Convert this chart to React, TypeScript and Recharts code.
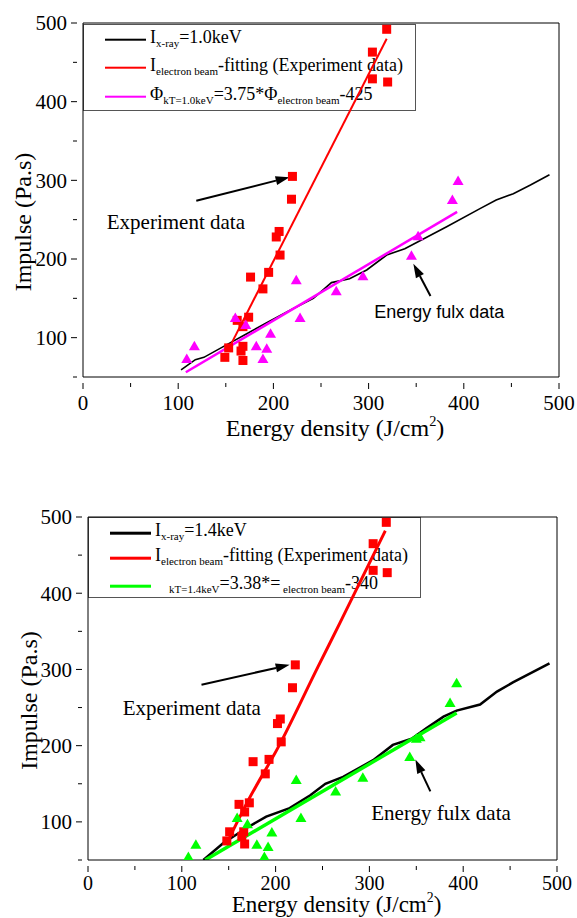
import React from 'react';
import {
  ComposedChart,
  Legend,
  Line,
  ReferenceDot,
  ReferenceLine,
  Scatter,
  XAxis,
  YAxis,
} from 'recharts';

const SERIF = 'Liberation Serif';
const SANS = 'Liberation Sans';

type Pt = { x: number; y: number };

const xTicks = [0, 50, 100, 150, 200, 250, 300, 350, 400, 450, 500];
const yTicks = [50, 100, 150, 200, 250, 300, 350, 400, 450, 500];

// kT = 1.0 keV panel
const xray10: Pt[] = [
  { x: 103, y: 59 }, { x: 118, y: 72 }, { x: 127, y: 75 }, { x: 154, y: 93 },
  { x: 172, y: 105 }, { x: 193, y: 119 }, { x: 221, y: 137 }, { x: 242, y: 150 },
  { x: 261, y: 170 }, { x: 280, y: 175 }, { x: 298, y: 186 }, { x: 319, y: 205 },
  { x: 338, y: 213 }, { x: 357, y: 225 }, { x: 382, y: 241 }, { x: 417, y: 264 },
  { x: 434, y: 275 }, { x: 452, y: 283 }, { x: 470, y: 294 }, { x: 490, y: 307 },
];
const fit10: Pt[] = [{ x: 154, y: 88 }, { x: 319, y: 480 }];
const exp10: Pt[] = [
  { x: 149, y: 75 }, { x: 153, y: 87 }, { x: 166, y: 83 }, { x: 168, y: 89 },
  { x: 168, y: 71 }, { x: 162, y: 122 }, { x: 168, y: 114 }, { x: 174, y: 126 },
  { x: 176, y: 177 }, { x: 189, y: 162 }, { x: 195, y: 183 }, { x: 203, y: 228 },
  { x: 206, y: 235 }, { x: 207, y: 205 }, { x: 219, y: 276 }, { x: 220, y: 305 },
  { x: 304, y: 429 }, { x: 304, y: 463 }, { x: 319, y: 492 }, { x: 320, y: 425 },
];
const fluxLine10: Pt[] = [{ x: 108, y: 56 }, { x: 393, y: 260 }];
const flux10: Pt[] = [
  { x: 109, y: 73 }, { x: 117, y: 89 }, { x: 160, y: 125 }, { x: 171, y: 116 },
  { x: 182, y: 89 }, { x: 189, y: 73 }, { x: 193, y: 86 }, { x: 197, y: 105 },
  { x: 224, y: 173 }, { x: 228, y: 125 }, { x: 266, y: 159 }, { x: 294, y: 178 },
  { x: 345, y: 204 }, { x: 352, y: 229 }, { x: 388, y: 275 }, { x: 394, y: 299 },
];

// kT = 1.4 keV panel
const xray14: Pt[] = [
  { x: 123, y: 50 }, { x: 144, y: 72 }, { x: 169, y: 92 }, { x: 190, y: 107 },
  { x: 215, y: 118 }, { x: 237, y: 135 }, { x: 253, y: 150 }, { x: 272, y: 159 },
  { x: 304, y: 181 }, { x: 325, y: 201 }, { x: 345, y: 209 }, { x: 361, y: 223 },
  { x: 379, y: 238 }, { x: 393, y: 246 }, { x: 418, y: 254 }, { x: 436, y: 271 },
  { x: 453, y: 283 }, { x: 492, y: 308 },
];
const fit14: Pt[] = [
  { x: 148, y: 72 }, { x: 169, y: 124 }, { x: 205, y: 203 }, { x: 245, y: 303 },
  { x: 269, y: 362 }, { x: 317, y: 482 },
];
const exp14: Pt[] = [
  { x: 148, y: 75 }, { x: 151, y: 87 }, { x: 164, y: 81 }, { x: 166, y: 87 },
  { x: 167, y: 71 }, { x: 161, y: 123 }, { x: 167, y: 113 }, { x: 172, y: 125 },
  { x: 176, y: 179 }, { x: 189, y: 163 }, { x: 193, y: 182 }, { x: 202, y: 229 },
  { x: 205, y: 235 }, { x: 206, y: 205 }, { x: 218, y: 276 }, { x: 221, y: 306 },
  { x: 304, y: 430 }, { x: 304, y: 465 }, { x: 318, y: 493 }, { x: 319, y: 427 },
];
const fluxLine14: Pt[] = [{ x: 125, y: 50 }, { x: 393, y: 243 }];
const flux14: Pt[] = [
  { x: 107, y: 54 }, { x: 115, y: 70 }, { x: 159, y: 105 }, { x: 170, y: 97 },
  { x: 180, y: 70 }, { x: 188, y: 54 }, { x: 192, y: 67 }, { x: 196, y: 86 },
  { x: 222, y: 155 }, { x: 227, y: 105 }, { x: 264, y: 140 }, { x: 293, y: 158 },
  { x: 343, y: 185 }, { x: 350, y: 209 }, { x: 354, y: 211 }, { x: 386, y: 256 },
  { x: 393, y: 282 },
];

const sub = (t: string) => <sub style={{ fontSize: 11 }}>{t}</sub>;

const legend10 = [
  { color: '#000', top: 15, label: <>I{sub('x-ray')}=1.0keV</> },
  { color: '#ff0000', top: 43, label: <>I{sub('electron beam')}-fitting (Experiment data)</> },
  { color: '#ff00ff', top: 72, label: <>Φ{sub('kT=1.0keV')}=3.75*Φ{sub('electron beam')}-425</> },
];
const legend14 = [
  { color: '#000', top: 15, label: <>I{sub('x-ray')}=1.4keV</> },
  { color: '#ff0000', top: 40, label: <>I{sub('electron beam')}-fitting (Experiment data)</> },
  {
    color: '#00ff00',
    top: 68,
    label: <><span style={{ display: 'inline-block', width: 14 }} />{sub('kT=1.4keV')}=3.38*={sub(' electron beam')}-340</>,
  },
];

function LegendBox({ rows, lineW }: { rows: typeof legend10; lineW: number }) {
  return (
    <div
      style={{
        position: 'relative',
        width: '100%',
        height: '100%',
        border: '1px solid #555',
        boxSizing: 'border-box',
        background: '#fff',
        fontFamily: SERIF,
        fontSize: 18,
        color: '#000',
      }}
    >
      {rows.map((r, i) => (
        <div
          key={i}
          style={{
            position: 'absolute',
            left: 21,
            top: r.top,
            transform: 'translateY(-50%)',
            display: 'flex',
            alignItems: 'center',
            whiteSpace: 'nowrap',
            lineHeight: '18px',
          }}
        >
          <span style={{ display: 'inline-block', width: 41, height: lineW, background: r.color, marginRight: 4 }} />
          <span>{r.label}</span>
        </div>
      ))}
    </div>
  );
}

const serifStyle = (fs: number) => ({ fontFamily: SERIF, fontSize: fs });

const makeXTick = (labelDy: number, fs: number) => (p: any) => {
  const major = p.payload.value % 100 === 0;
  return (
    <g>
      <line x1={p.x} x2={p.x} y1={p.y} y2={p.y + (major ? 6 : 4)} stroke="#000" />
      {major && (
        <text x={p.x} y={p.y + labelDy} textAnchor="middle" fontFamily={SERIF} style={serifStyle(fs)} fill="#000">
          {p.payload.value}
        </text>
      )}
    </g>
  );
};

const YTick = (p: any) => {
  const major = p.payload.value % 100 === 0;
  return (
    <g>
      <line x1={p.x} x2={p.x - (major ? 6 : 4)} y1={p.y} y2={p.y} stroke="#000" />
      {major && (
        <text x={p.x - 10} y={p.y} dy="0.35em" textAnchor="end" fontFamily={SERIF} style={serifStyle(21)} fill="#000">
          {p.payload.value}
        </text>
      )}
    </g>
  );
};

const Arrow = (p: any) => {
  const { x1, y1, x2, y2 } = p;
  const a = Math.atan2(y2 - y1, x2 - x1);
  const L = 14;
  const W = 4.5;
  const bx = x2 - L * Math.cos(a);
  const by = y2 - L * Math.sin(a);
  const nx = -Math.sin(a) * W;
  const ny = Math.cos(a) * W;
  return (
    <g>
      <line x1={x1} y1={y1} x2={bx} y2={by} stroke="#000" strokeWidth={2} />
      <polygon points={`${x2},${y2} ${bx + nx},${by + ny} ${bx - nx},${by - ny}`} fill="#000" />
    </g>
  );
};

const textShape = (t: string, family: string, fs: number) => (p: any) => (
  <text x={p.cx} y={p.cy} dy="0.35em" fontFamily={family} style={{ fontFamily: family, fontSize: fs }} fill="#000">
    {t}
  </text>
);

const square = (p: any) => <rect x={p.cx - 4.5} y={p.cy - 4.5} width={9} height={9} fill="#ff0000" />;
const triangle = (color: string) => (p: any) => (
  <polygon points={`${p.cx},${p.cy - 5.5} ${p.cx - 5.5},${p.cy + 4} ${p.cx + 5.5},${p.cy + 4}`} fill={color} />
);

type PanelProps = {
  height: number;
  top: number;
  right: number;
  yW: number;
  xH: number;
  xray: Pt[];
  fit: Pt[];
  fitType: 'linear' | 'monotone';
  exp: Pt[];
  fluxLine: Pt[];
  flux: Pt[];
  fluxColor: string;
  widths: { xray: number; fit: number; flux: number };
  legendRows: typeof legend10;
  legendBox: { left: number; top: number; width: number; height: number };
  legendLineW: number;
  tickDy: number;
  tickFs: number;
  xTitle: { dx: number; dy: number; fs: number };
  yTitle: { x: number; dy: number; fs: number };
  expText: Pt;
  expArrow: [Pt, Pt];
  fluxText: Pt;
  fluxFont: string;
  fluxFs: number;
  fluxArrow: [Pt, Pt];
};

function Panel(P: PanelProps) {
  return (
    <ComposedChart width={577} height={P.height} margin={{ top: P.top, right: P.right, bottom: 0, left: 0 }}>
      <XAxis
        type="number"
        dataKey="x"
        domain={[0, 500]}
        ticks={xTicks}
        interval={0}
        tickLine={false}
        tickMargin={0}
        tick={makeXTick(P.tickDy, P.tickFs)}
        axisLine={{ stroke: '#000' }}
        height={P.xH}
        allowDataOverflow
        label={(lp: any) => {
          const vb = lp.viewBox;
          return (
            <text
              x={vb.x + vb.width / 2 + P.xTitle.dx}
              y={vb.y + P.xTitle.dy}
              textAnchor="middle"
              fontFamily={SERIF}
              style={serifStyle(P.xTitle.fs)}
              fill="#000"
            >
              <tspan>Energy density (J/cm</tspan>
              <tspan dy={-10} style={{ fontSize: P.xTitle.fs * 0.6 }}>2</tspan>
              <tspan dy={10}>)</tspan>
            </text>
          );
        }}
      />
      <YAxis
        type="number"
        dataKey="y"
        domain={[50, 500]}
        ticks={yTicks}
        interval={0}
        tickLine={false}
        tickMargin={0}
        tick={YTick}
        axisLine={{ stroke: '#000' }}
        width={P.yW}
        allowDataOverflow
        label={(lp: any) => {
          const vb = lp.viewBox;
          const cx = P.yTitle.x;
          const cy = vb.y + vb.height / 2 + P.yTitle.dy;
          return (
            <text
              x={cx}
              y={cy}
              dy="0.35em"
              textAnchor="middle"
              transform={`rotate(-90 ${cx} ${cy})`}
              fontFamily={SERIF}
              style={serifStyle(P.yTitle.fs)}
              fill="#000"
            >
              Impulse (Pa.s)
            </text>
          );
        }}
      />
      <Legend
        layout="vertical"
        align="center"
        verticalAlign="middle"
        content={() => <LegendBox rows={P.legendRows} lineW={P.legendLineW} />}
        wrapperStyle={{ ...P.legendBox, zIndex: -1 }}
      />
      <ReferenceLine y={500} stroke="#000" />
      <ReferenceLine x={500} stroke="#000" />
      <Line data={P.xray} dataKey="y" type="linear" stroke="#000" strokeWidth={P.widths.xray} dot={false} activeDot={false} isAnimationActive={false} />
      <Line data={P.fluxLine} dataKey="y" type="linear" stroke={P.fluxColor} strokeWidth={P.widths.flux} dot={false} activeDot={false} isAnimationActive={false} />
      <Line data={P.fit} dataKey="y" type={P.fitType} stroke="#ff0000" strokeWidth={P.widths.fit} dot={false} activeDot={false} isAnimationActive={false} />
      <Scatter data={P.exp} dataKey="y" shape={square} isAnimationActive={false} />
      <Scatter data={P.flux} dataKey="y" shape={triangle(P.fluxColor)} isAnimationActive={false} />
      <ReferenceLine segment={P.expArrow} shape={Arrow} />
      <ReferenceLine segment={P.fluxArrow} shape={Arrow} />
      <ReferenceDot x={P.expText.x} y={P.expText.y} r={0} shape={textShape('Experiment data', SERIF, 21)} />
      <ReferenceDot x={P.fluxText.x} y={P.fluxText.y} r={0} shape={textShape('Energy fulx data', P.fluxFont, P.fluxFs)} />
    </ComposedChart>
  );
}

export default function App() {
  return (
    <div style={{ position: 'absolute', left: 0, top: 0, width: 577, height: 918, background: '#fff', zIndex: 0 }}>
      <Panel
        height={460}
        top={23}
        right={18}
        yW={83}
        xH={83}
        xray={xray10}
        fit={fit10}
        fitType="linear"
        exp={exp10}
        fluxLine={fluxLine10}
        flux={flux10}
        fluxColor="#ff00ff"
        widths={{ xray: 1.6, fit: 2, flux: 2.5 }}
        legendRows={legend10}
        legendBox={{ left: 83, top: 24, width: 333, height: 87 }}
        legendLineW={2}
        tickDy={27}
        tickFs={21}
        xTitle={{ dx: 14, dy: 59, fs: 24 }}
        yTitle={{ x: 23, dy: 22, fs: 24 }}
        expText={{ x: 25, y: 247 }}
        expArrow={[{ x: 119, y: 274 }, { x: 217, y: 304 }]}
        fluxText={{ x: 306, y: 133 }}
        fluxFont={SANS}
        fluxFs={18}
        fluxArrow={[{ x: 365, y: 153 }, { x: 347, y: 194 }]}
      />
      <Panel
        height={458}
        top={57}
        right={20}
        yW={88}
        xH={58}
        xray={xray14}
        fit={fit14}
        fitType="monotone"
        exp={exp14}
        fluxLine={fluxLine14}
        flux={flux14}
        fluxColor="#00ff00"
        widths={{ xray: 2.5, fit: 3, flux: 3.5 }}
        legendRows={legend14}
        legendBox={{ left: 88, top: 57, width: 333, height: 81 }}
        legendLineW={3}
        tickDy={24}
        tickFs={20}
        xTitle={{ dx: 14, dy: 52, fs: 23 }}
        yTitle={{ x: 29, dy: 12, fs: 24 }}
        expText={{ x: 37, y: 250 }}
        expArrow={[{ x: 121, y: 280 }, { x: 215, y: 306 }]}
        fluxText={{ x: 302, y: 112 }}
        fluxFont={SERIF}
        fluxFs={21}
        fluxArrow={[{ x: 365, y: 140 }, { x: 349, y: 182 }]}
      />
    </div>
  );
}
